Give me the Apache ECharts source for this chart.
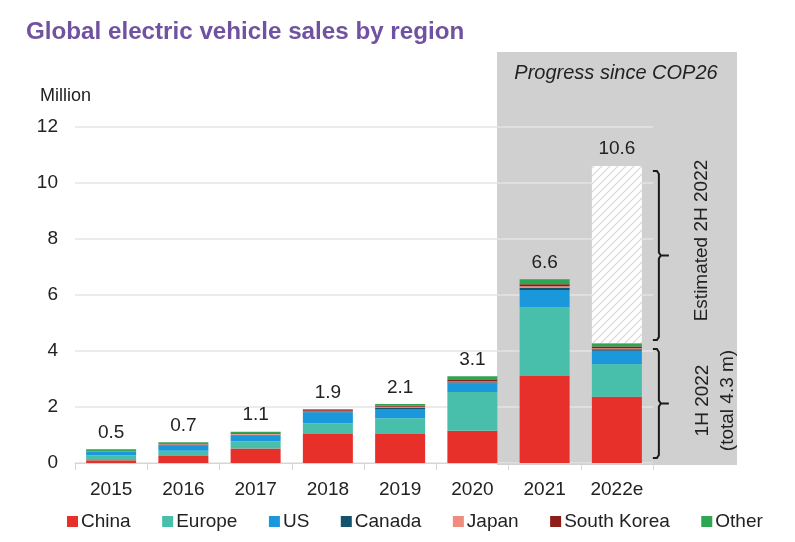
<!DOCTYPE html>
<html>
<head>
<meta charset="utf-8">
<script src="https://cdn.jsdelivr.net/npm/echarts@6/dist/echarts.min.js"></script>
<style>
html,body{margin:0;padding:0;background:#fff}
#wrap{position:relative;width:795px;height:542px}
#panel{position:absolute;left:497px;top:52px;width:240px;height:413px;background:#d0d0d0}
#chart{position:absolute;left:0;top:0;width:795px;height:542px}
</style>
</head>
<body>
<div id="wrap"><div id="panel"></div><div id="chart"></div></div>
<script>
// ---- data (million vehicles) ----
const years = ['2015','2016','2017','2018','2019','2020','2021','2022e'];
const china      = [0.10, 0.25, 0.52, 1.04, 1.04, 1.15, 3.11, 2.37];
const europe     = [0.18, 0.19, 0.26, 0.38, 0.56, 1.39, 2.45, 1.16];
const us         = [0.11, 0.19, 0.21, 0.39, 0.33, 0.30, 0.62, 0.48];
const canada     = [0.01, 0.02, 0.02, 0.04, 0.05, 0.04, 0.08, 0.05];
const japan      = [0.02, 0.02, 0.03, 0.02, 0.03, 0.03, 0.05, 0.04];
const southKorea = [0.01, 0.01, 0.02, 0.03, 0.04, 0.05, 0.07, 0.06];
const other      = [0.06, 0.06, 0.06, 0.03, 0.06, 0.14, 0.18, 0.12];
const estimated2H = [null, null, null, null, null, null, null, 6.33];
const totalLabels = ['0.5','0.7','1.1','1.9','2.1','3.1','6.6','10.6'];
const h1Total2022 = 4.27;
const grandTotal2022 = 10.6;

const FONT = '"Liberation Sans", Arial, sans-serif';
const colors = {
  China:'#e8302a', Europe:'#47bfaa', US:'#1b98dc', Canada:'#13546c',
  Japan:'#f08b80', 'South Korea':'#8e1c18', Other:'#2fa652'
};

// hatched pattern for estimated 2H 2022
const pc = document.createElement('canvas');
pc.width = 8; pc.height = 8;
const pctx = pc.getContext('2d');
pctx.fillStyle = '#ffffff'; pctx.fillRect(0,0,8,8);
pctx.strokeStyle = '#d6d6d6'; pctx.lineWidth = 1.2;
[[-8,8,8,-8],[0,8,8,0],[0,16,16,0]].forEach(function(l){
  pctx.beginPath(); pctx.moveTo(l[0],l[1]); pctx.lineTo(l[2],l[3]); pctx.stroke();
});

const chart = echarts.init(document.getElementById('chart'), null, {renderer:'canvas'});

function regionSeries(name, data, withLabel){
  const s = {
    name: name, type:'bar', stack:'total', data: data, barWidth: 50,
    itemStyle:{color: colors[name]}, emphasis:{disabled:true}, z:3
  };
  if (withLabel) {
    s.label = {
      show:true, position:'top', distance:7, color:'#222', fontSize:19, fontFamily:FONT,
      formatter: function(p){ return p.dataIndex < 7 ? totalLabels[p.dataIndex] : ''; }
    };
  }
  return s;
}

const option = {
  animation:false,
  backgroundColor:'transparent',
  title:{
    text:'Global electric vehicle sales by region', left:21, top:15,
    textStyle:{color:'#7152a0', fontSize:24.2, fontWeight:'bold', fontFamily:FONT}
  },
  grid:{left:75, right:142, top:127, bottom:79, containLabel:false},
  legend:{
    data:['China','Europe','US','Canada','Japan','South Korea','Other'],
    left:62, top:507, icon:'rect', itemWidth:11, itemHeight:11, itemGap:31.5,
    textStyle:{fontSize:19, color:'#222', fontFamily:FONT, padding:[0,0,0,-2]},
    selectedMode:false
  },
  xAxis:{
    type:'category', data:years,
    axisLine:{lineStyle:{color:'#d6d6d6', width:1}},
    axisTick:{show:true, length:7, lineStyle:{color:'#d6d6d6'}},
    axisLabel:{color:'#222', fontSize:19, fontFamily:FONT, margin:17}
  },
  yAxis:{
    type:'value', min:0, max:12, interval:2,
    axisLine:{show:false}, axisTick:{show:false},
    axisLabel:{color:'#222', fontSize:19, fontFamily:FONT, margin:17},
    splitLine:{lineStyle:{color:'#e4e4e4', width:1.5}}
  },
  series:[
    regionSeries('China', china),
    regionSeries('Europe', europe),
    regionSeries('US', us),
    regionSeries('Canada', canada),
    regionSeries('Japan', japan),
    regionSeries('South Korea', southKorea),
    regionSeries('Other', other, true),
    {
      name:'Estimated 2H 2022', type:'bar', stack:'total', data: estimated2H, barWidth:50,
      itemStyle:{color:{image:pc, repeat:'repeat'}}, emphasis:{disabled:true}, z:3,
      label:{show:true, position:'top', distance:8, color:'#222', fontSize:19, fontFamily:FONT,
        formatter:function(p){ return totalLabels[p.dataIndex]; }}
    }
  ]
};
chart.setOption(option);

// annotations positioned through the axes
function px(idx, v){ return chart.convertToPixel({seriesIndex:0}, [idx, v]); }
const cx = px(7, 0)[0];
function brace(v0, v1){
  const yb = px(7, v0)[1], yt = px(7, v1)[1], ym = (yb + yt) / 2;
  const x0 = cx + 36, x1 = cx + 42, x2 = cx + 52;
  return {
    type:'polyline', silent:true,
    shape:{points:[[x0,yt],[x1-2,yt],[x1,yt+3],[x1,ym-3],[x1+2,ym],[x2,ym],[x1+2,ym],[x1,ym+3],[x1,yb-3],[x1-2,yb],[x0,yb]]},
    style:{stroke:'#1a1a1a', lineWidth:2, fill:null}
  };
}
const upper = brace(h1Total2022 + 0.12, grandTotal2022 - 0.17);
const lower = brace(0.18, h1Total2022 - 0.2);
const yUpMid = (px(7, h1Total2022 + 0.12)[1] + px(7, grandTotal2022 - 0.17)[1]) / 2;
const yLoMid = (px(7, 0.18)[1] + px(7, h1Total2022 - 0.2)[1]) / 2;

chart.setOption({
  graphic:{
    elements:[
      {type:'text', silent:true, x:616, y:73,
       style:{text:'Progress since COP26', fontSize:20, fontStyle:'italic', fontFamily:FONT,
         fill:'#222', textAlign:'center', textVerticalAlign:'middle'}},
      {type:'text', silent:true, x:40, y:96,
       style:{text:'Million', fontSize:18, fontFamily:FONT, fill:'#222', textAlign:'left', textVerticalAlign:'middle'}},
      upper, lower,
      {type:'text', silent:true, x:cx + 85, y:yUpMid - 15, rotation:Math.PI/2,
       style:{text:'Estimated 2H 2022', fontSize:19, fontFamily:FONT, fill:'#222',
         textAlign:'center', textVerticalAlign:'middle'}},
      {type:'text', silent:true, x:cx + 98, y:yLoMid - 3, rotation:Math.PI/2,
       style:{text:'1H 2022\n(total 4.3 m)', fontSize:19, lineHeight:25, fontFamily:FONT, fill:'#222',
         textAlign:'center', textVerticalAlign:'middle'}}
    ]
  }
});
</script>
</body>
</html>
